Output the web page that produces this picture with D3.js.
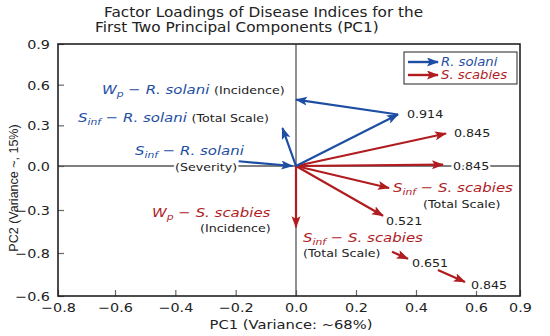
<!DOCTYPE html>
<html><head><meta charset="utf-8">
<script src="https://cdn.jsdelivr.net/npm/d3@7"></script>
<style>body{margin:0;background:#fff}svg{display:block}</style>
</head><body><svg id="c" width="550" height="336"></svg>
<script>
// ---------- data ----------
const xTicks = [-0.8, -0.6, -0.4, -0.2, 0, 0.2, 0.4, 0.6, 0.9];
const xTickLabels = ["−0.8", "−0.6", "−0.4", "−0.2", "0.0", "0.2", "0.4", "0.6", "0.9"];
const yTicks = [0.9, 0.6, 0.3, 0, -0.3, -0.45, -0.6];
const yTickLabels = ["0.9", "0.6", "0.3", "0.0", "−0.3", "−0.8", "−0.6"];
const seriesNames = ["R. solani", "S. scabies"];
// loading vectors [x0, y0, x1, y1] in (PC1, PC2) units
const rSolaniVectors = [
  [0, 0, 0.34, 0.38],
  [0.34, 0.38, 0.0, 0.49],
  [0, 0, -0.045, 0.28],
  [-0.19, 0.035, -0.012, 0.0]
];
const sScabiesVectors = [
  [0, 0, 0.50, 0.24],
  [0, 0, 0.49, 0.01],
  [0, 0, 0.31, -0.15],
  [0, 0, 0.29, -0.32],
  [0, 0, 0.0, -0.36],
  [0.32, -0.446, 0.373, -0.47],
  [0.473, -0.509, 0.563, -0.551]
];
const loadingValues = ["0.914", "0.845", "0.845", "0.521", "0.651", "0.845"];
const loadingTargets = [[0, 0], [1, 0], [1, 1], [1, 3], [1, 5], [1, 6]]; // [series, vector]

// ---------- layout ----------
const blue = "#1d4ea3", red = "#b01c1f", ink = "#222";
const svg = d3.select("#c");
const L = 58, R = 520, T = 44, B = 296;
const x = d3.scaleLinear().domain([-0.8, -0.6, 0, 0.6, 0.9]).range([L, 115, 296, 476, R]);
const y = d3.scaleLinear().domain([-0.6, -0.3, 0, 0.9]).range([B, 210, 166, T]);
const SX = 1.15; // horizontal text stretch

// markers
const defs = svg.append("defs");
[["ab", blue], ["ar", red]].forEach(([id, c]) => {
  defs.append("marker").attr("id", id).attr("markerUnits", "userSpaceOnUse")
    .attr("markerWidth", 12).attr("markerHeight", 10).attr("refX", 11).attr("refY", 4.5)
    .attr("orient", "auto")
    .append("path").attr("d", "M0,0 L12,4.5 L0,9 L2.5,4.5 Z").attr("fill", c);
});

// axes
const xAxis = d3.axisBottom(x).tickValues(xTicks).tickSize(-6).tickPadding(7)
  .tickFormat((d, i) => xTickLabels[i]);
const yAxis = d3.axisLeft(y).tickValues(yTicks).tickSize(-6).tickPadding(8)
  .tickFormat((d, i) => yTickLabels[i]);
const gx = svg.append("g").attr("transform", `translate(0,${B})`).call(xAxis);
const gy = svg.append("g").attr("transform", `translate(${L},0)`).call(yAxis);
[gx, gy].forEach(g => {
  g.select(".domain").remove();
  g.selectAll("line").attr("stroke", "#666").attr("stroke-width", 1.2);
  g.selectAll("text").attr("font-family", "DejaVu Sans").attr("font-size", 12.5).attr("fill", ink);
});
gx.selectAll(".tick text").attr("transform", `scale(${SX},1)`).attr("x", 0);
gy.selectAll(".tick text").attr("transform", `translate(-8,0) scale(${SX},1)`).attr("x", 0).attr("dy", "0.36em");

// zero lines
svg.append("line").attr("x1", L).attr("x2", R).attr("y1", y(0)).attr("y2", y(0))
  .attr("stroke", "#555").attr("stroke-width", 1.3);
svg.append("line").attr("x1", x(0)).attr("x2", x(0)).attr("y1", T).attr("y2", B)
  .attr("stroke", "#555").attr("stroke-width", 1.3);

// frame
svg.append("rect").attr("x", L).attr("y", T).attr("width", R - L).attr("height", B - T)
  .attr("fill", "none").attr("stroke", ink).attr("stroke-width", 1.6);

// labels
const lab = svg.append("g").attr("class", "labels");
function label(px, py, parts, size, color, anchor) {
  const t = lab.append("text")
    .attr("transform", `translate(${px},${py}) scale(${SX},1)`)
    .attr("font-family", "DejaVu Sans").attr("font-size", size).attr("fill", color)
    .attr("text-anchor", anchor || "start")
    .attr("stroke", "#fff").attr("stroke-width", 4).attr("paint-order", "stroke")
    .attr("stroke-linejoin", "round");
  parts.forEach(p => {
    const s = t.append("tspan").text(p.t);
    if (p.i) s.attr("font-style", "italic");
    if (p.sub) s.attr("font-size", size * 0.72).attr("baseline-shift", "-28%");
    if (p.c) s.attr("fill", p.c);
    if (p.s) s.attr("font-size", p.s);
  });
  return t;
}
const subP = [{ t: "W", i: 1 }, { t: "p", i: 1, sub: 1 }];
const subInf = [{ t: "S", i: 1 }, { t: "inf", i: 1, sub: 1 }];
label(102, 94, [...subP, { t: " − " + seriesNames[0] + " ", i: 1 }, { t: "(Incidence)", c: ink, s: 11 }], 13, blue);
label(78, 122, [...subInf, { t: " − " + seriesNames[0] + " ", i: 1 }, { t: "(Total Scale)", c: ink, s: 11 }], 13, blue);
label(135, 155, [...subInf, { t: " − " + seriesNames[0], i: 1 }], 13, blue);
label(175, 171, [{ t: "(Severity)" }], 11, ink);
label(393, 192, [...subInf, { t: " − " + seriesNames[1], i: 1 }], 13, red);
label(423, 208, [{ t: "(Total Scale)" }], 11, ink);
label(303, 242, [...subInf, { t: " − " + seriesNames[1], i: 1 }], 13, red);
label(303, 257, [{ t: "(Total Scale)" }], 11, ink);
label(152, 217, [...subP, { t: " − " + seriesNames[1], i: 1 }], 13, red);
label(200, 232, [{ t: "(Incidence)" }], 11, ink);

// arrows
const arrows = svg.append("g");
function drawVectors(data, color, mid) {
  arrows.selectAll(null).data(data).enter().append("line")
    .attr("x1", d => x(d[0])).attr("y1", d => y(d[1]))
    .attr("x2", d => x(d[2])).attr("y2", d => y(d[3]))
    .attr("stroke", color).attr("stroke-width", 2.2)
    .attr("marker-end", `url(#${mid})`);
}
drawVectors(sScabiesVectors, red, "ar");
drawVectors(rSolaniVectors, blue, "ab");

// loading value labels
const allVec = [rSolaniVectors, sScabiesVectors];
const offs = [[9, 4], [8, 4], [10, 5], [3, 9], [4, 8], [6, 7]];
loadingValues.forEach((v, i) => {
  const [s, k] = loadingTargets[i];
  const d = allVec[s][k];
  label(x(d[2]) + offs[i][0], y(d[3]) + offs[i][1], [{ t: v }], 11, ink);
});

// legend
const lg = svg.append("g");
lg.append("rect").attr("x", 404).attr("y", 52).attr("width", 113).attr("height", 32)
  .attr("fill", "#fff").attr("stroke", ink).attr("stroke-width", 1);
seriesNames.forEach((n, i) => {
  const c = i ? red : blue, yy = 62 + i * 13;
  lg.append("line").attr("x1", 408).attr("x2", 438).attr("y1", yy).attr("y2", yy)
    .attr("stroke", c).attr("stroke-width", 2.4).attr("marker-end", `url(#${i ? "ar" : "ab"})`);
  lg.append("text").attr("transform", `translate(441,${yy + 4}) scale(${SX},1)`)
    .attr("font-family", "DejaVu Sans").attr("font-style", "italic").attr("font-size", 11.5)
    .attr("fill", c).text(n);
});

// titles
svg.append("text").attr("transform", `translate(104,17) scale(${SX},1)`)
  .attr("font-family", "DejaVu Sans").attr("font-size", 13.3).attr("fill", ink)
  .text("Factor Loadings of Disease Indices for the");
svg.append("text").attr("transform", `translate(95,32) scale(${SX},1)`)
  .attr("font-family", "DejaVu Sans").attr("font-size", 13.3).attr("fill", ink)
  .text("First Two Principal Components (PC1)");
svg.append("text").attr("transform", `translate(291,329) scale(${SX},1)`)
  .attr("text-anchor", "middle")
  .attr("font-family", "DejaVu Sans").attr("font-size", 12.8).attr("fill", ink)
  .text("PC1 (Variance: ~68%)");
svg.append("text").attr("transform", `translate(18,188) rotate(-90)`)
  .attr("text-anchor", "middle")
  .attr("font-family", "Liberation Sans").attr("font-size", 12.5).attr("fill", ink)
  .text("PC2 (Variance ~, 15%)");
</script></body></html>
